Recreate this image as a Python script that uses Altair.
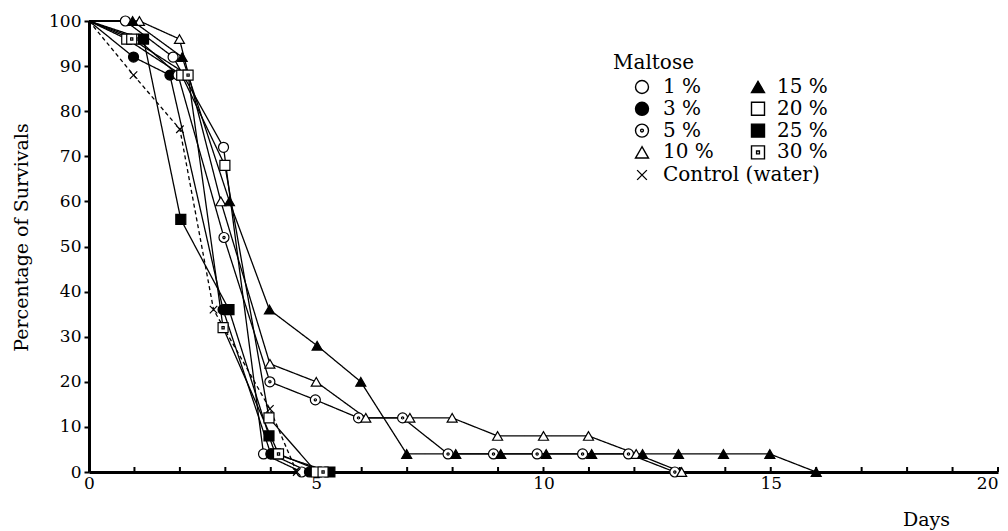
import altair as alt
import pandas as pd

# ---------------- data ----------------
series_names = ["1 %", "3 %", "5 %", "10 %", "15 %", "20 %", "25 %", "30 %", "Control (water)"]

days_1 = [0, 0.8, 1.85, 2.96, 3.84, 4.68]
pct_1 = [100, 100, 92, 72, 4, 0]

days_3 = [0, 0.98, 1.78, 2.95, 4.0, 4.85]
pct_3 = [100, 92, 88, 36, 4, 0]

days_5 = [0, 1.07, 1.96, 2.97, 3.98, 4.98, 5.93, 6.9, 7.9, 8.9, 9.86, 10.86, 11.87, 12.89]
pct_5 = [100, 96, 88, 52, 20, 16, 12, 12, 4, 4, 4, 4, 4, 0]

days_10 = [0, 1.11, 1.99, 2.9, 3.98, 5.0, 6.09, 7.06, 7.99, 8.99, 10.0, 10.99, 12.04, 13.04]
pct_10 = [100, 100, 96, 60, 24, 20, 12, 12, 12, 8, 8, 8, 4, 0]

days_15 = [0, 0.96, 2.05, 3.09, 3.97, 5.02, 5.98, 6.99, 8.07, 9.06, 10.06, 11.06, 12.18, 12.97, 13.96, 14.98, 16.0]
pct_15 = [100, 100, 92, 60, 36, 28, 20, 4, 4, 4, 4, 4, 4, 4, 4, 4, 0]

days_20 = [0, 0.83, 2.04, 2.99, 3.96, 5.0]
pct_20 = [100, 96, 88, 68, 12, 0]

days_25 = [0, 1.2, 2.02, 3.08, 3.96, 4.1, 5.3]
pct_25 = [100, 96, 56, 36, 8, 4, 0]

days_30 = [0, 0.94, 2.18, 2.95, 4.17, 5.15]
pct_30 = [100, 96, 88, 32, 4, 0]

days_c = [0, 0.98, 2.0, 2.74, 3.98, 4.57]
pct_c = [100, 88, 76, 36, 14, 0]

x_tick_days = list(range(0, 21))
x_label_days = [0, 5, 10, 15, 20]
y_label_values = list(range(0, 101, 10))

legend_title = "Maltose"
x_title = "Days"
y_title = "Percentage of Survivals"

# ---------------- build table ----------------
all_days = [days_1, days_3, days_5, days_10, days_15, days_20, days_25, days_30, days_c]
all_pcts = [pct_1, pct_3, pct_5, pct_10, pct_15, pct_20, pct_25, pct_30, pct_c]
rows = []
for name, ds, ps in zip(series_names, all_days, all_pcts):
    for d, p in zip(ds, ps):
        rows.append({"series": name, "day": d, "pct": p})
df = pd.DataFrame(rows)

# ---------------- style ----------------
FONT = "DejaVu Serif"
W, H = 909, 451

dot_circle = "M1,0A1,1,0,1,1,-1,0A1,1,0,1,1,1,0Z M0.22,0A0.22,0.22,0,1,1,-0.22,0A0.22,0.22,0,1,1,0.22,0Z"
dot_square = "M-1,-1H1V1H-1Z M-0.22,-0.22H0.22V0.22H-0.22Z"
x_mark = "M-0.75,-0.75L0.75,0.75M0.75,-0.75L-0.75,0.75"

shape_range = ["circle", "circle", dot_circle, "triangle-up", "triangle-up",
               "square", "square", dot_square, x_mark]
fill_range = ["white", "black", "white", "white", "black", "white", "black", "white", "transparent"]
dash_range = [[1, 0]] * 8 + [[4, 3]]

x_scale = alt.Scale(domain=[0, 20], nice=False, zero=False)
y_scale = alt.Scale(domain=[0, 100], nice=False)
shape_scale = alt.Scale(domain=series_names, range=shape_range)
fill_scale = alt.Scale(domain=series_names, range=fill_range)
dash_scale = alt.Scale(domain=series_names, range=dash_range)

x_axis = alt.Axis(values=x_label_days, ticks=False, tickSize=0, labelPadding=3,
                  labelFontSize=17, format="d",
                  labelAlign=alt.expr("datum.value == 20 ? 'right' : 'center'"),
                  title=x_title, titleFontSize=19, titleFontWeight="normal",
                  titleX=837, titleY=53, titleAlign="center", titleBaseline="alphabetic")
y_axis = alt.Axis(values=y_label_values, tickSize=5, tickWidth=2, labelPadding=3,
                  labelFontSize=17, format="d",
                  title=y_title, titleFontSize=19, titleFontWeight="normal",
                  titleX=-68, titleY=216, titleAlign="center", titleBaseline="middle",
                  titleAngle=270)

X = alt.X("day:Q", scale=x_scale, axis=x_axis)
Y = alt.Y("pct:Q", scale=y_scale, axis=y_axis)


def px_to_day(px):
    return px / W * 20


def px_to_pct(py):
    return 100 - py / H * 100


lines = alt.Chart(df).mark_line(color="black", strokeWidth=1.3).encode(
    x=X, y=Y,
    detail="series:N",
    strokeDash=alt.StrokeDash("series:N", scale=dash_scale, legend=None),
)

points = alt.Chart(df).transform_filter("datum.day > 0").mark_point(
    filled=True, opacity=1, stroke="black", strokeWidth=1.2, size=100).encode(
    x=X, y=Y,
    shape=alt.Shape("series:N", scale=shape_scale, legend=None),
    fill=alt.Fill("series:N", scale=fill_scale, legend=None),
)

ticks_df = pd.DataFrame({"day": x_tick_days})
xticks = alt.Chart(ticks_df).mark_rule(color="black", strokeWidth=2).encode(
    x=X,
    y=alt.value(H),
    y2=alt.value(H - 5),
)

# ---------------- manual legend ----------------
legend_df = pd.DataFrame({"series": series_names})
legend_base = alt.Chart(legend_df).transform_window(
    idx="row_number()"
).transform_calculate(
    pct=f"datum.idx == 9 ? {px_to_pct(154)} : {px_to_pct(66)} - {21.8 / H * 100} * ((datum.idx - 1) % 4)",
)
legend_pts = legend_base.transform_calculate(
    day=f"(datum.idx <= 4 || datum.idx == 9) ? {px_to_day(553)} : {px_to_day(669)}",
).mark_point(filled=True, opacity=1, stroke="black", strokeWidth=1.4, size=169).encode(
    x=X, y=Y,
    shape=alt.Shape("series:N", scale=shape_scale, legend=None),
    fill=alt.Fill("series:N", scale=fill_scale, legend=None),
)
legend_txt = legend_base.transform_calculate(
    day=f"(datum.idx <= 4 || datum.idx == 9) ? {px_to_day(574)} : {px_to_day(688)}",
).mark_text(align="left", baseline="middle", font=FONT, fontSize=20, color="black").encode(
    x=X, y=Y,
    text="series:N",
)
title_df = pd.DataFrame({"t": [legend_title]})
legend_head = alt.Chart(title_df).mark_text(align="left", baseline="middle", font=FONT, fontSize=20,
                                            color="black").encode(
    x=alt.value(524), y=alt.value(42), text="t:N",
)

chart = alt.layer(lines, xticks, points, legend_pts, legend_txt, legend_head).properties(
    width=W, height=H,
    autosize=alt.AutoSizeParams(type="none"),
    padding={"left": 81, "top": 13, "right": 2, "bottom": 59},
).configure_view(stroke=None).configure_axis(
    domainColor="black", domainWidth=3, tickColor="black", labelColor="black",
    titleColor="black", grid=False, labelFont=FONT, titleFont=FONT,
)

chart.save("out.html", embed_options={"renderer": "svg", "actions": False})
